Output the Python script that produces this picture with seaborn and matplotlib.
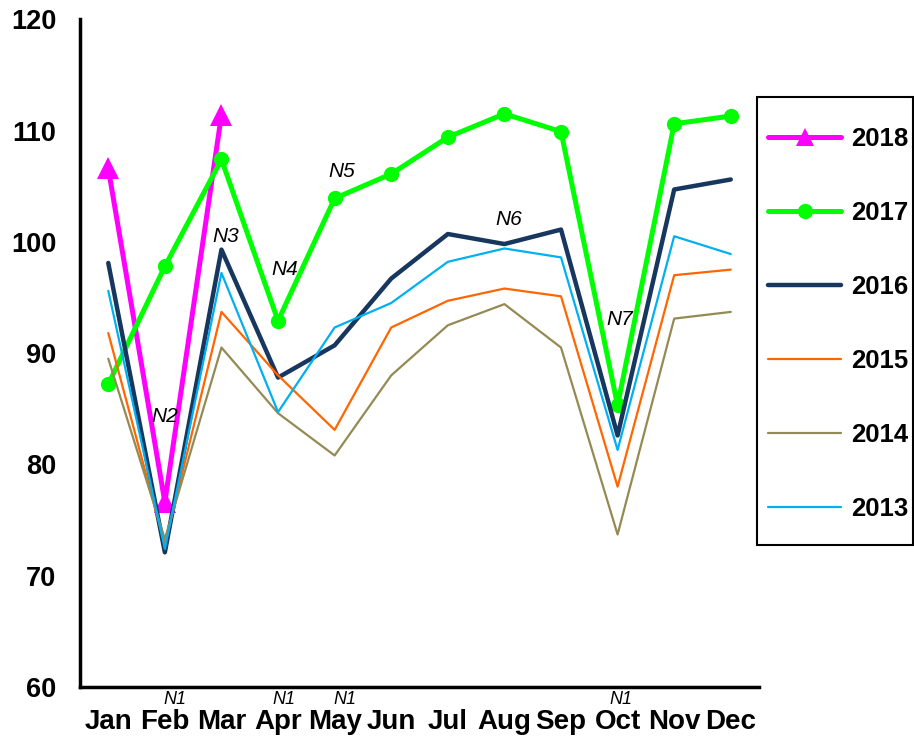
import pandas as pd
import seaborn as sns
from matplotlib import pyplot as plt
from matplotlib.patches import Rectangle
from matplotlib.ticker import FixedLocator, NullFormatter

sns.set_style("white")
plt.rcParams['font.family'] = ['Liberation Sans', 'DejaVu Sans']
plt.rcParams['text.color'] = 'black'
plt.rcParams['xtick.color'] = 'black'
plt.rcParams['ytick.color'] = 'black'

months = ['Jan', 'Feb', 'Mar', 'Apr', 'May', 'Jun',
          'Jul', 'Aug', 'Sep', 'Oct', 'Nov', 'Dec']

v2018 = [106.6, 76.6, 111.4]
v2017 = [87.2, 97.8, 107.4, 92.9, 103.9, 106.1, 109.4, 111.5, 109.9, 85.3, 110.6, 111.3]
v2016 = [98.1, 72.1, 99.3, 87.8, 90.7, 96.7, 100.7, 99.8, 101.1, 82.6, 104.7, 105.6]
v2015 = [91.8, 72.8, 93.7, 88.0, 83.1, 92.3, 94.7, 95.8, 95.1, 78.0, 97.0, 97.5]
v2014 = [89.5, 73.3, 90.5, 84.6, 80.8, 88.0, 92.5, 94.4, 90.5, 73.7, 93.1, 93.7]
v2013 = [95.6, 72.4, 97.2, 84.7, 92.3, 94.5, 98.2, 99.4, 98.6, 81.3, 100.5, 98.9]

# (text, x position in months, y value)
notes_in = [('N2', 1.0, 84.3), ('N3', 2.08, 100.5), ('N4', 3.11, 97.5),
            ('N5', 4.13, 106.3), ('N6', 7.08, 102.0), ('N7', 9.03, 93.0)]
notes_n1 = [1.17, 3.11, 4.19, 9.06]

series = [
    ('2018', v2018, '#FF00FF', 3.6, '^', 16.5, 12.5),
    ('2017', v2017, '#00FF00', 3.6, 'o', 11, 11),
    ('2016', v2016, '#17375E', 3.2, None, 0, 0),
    ('2015', v2015, '#FF6600', 1.6, None, 0, 0),
    ('2014', v2014, '#948A54', 1.6, None, 0, 0),
    ('2013', v2013, '#00B0F0', 1.6, None, 0, 0),
]

fig = plt.figure(figsize=(9.14, 7.39), dpi=100)
ax = fig.add_axes([0.0875, 0.0704, 0.743, 0.9036])

for label, vals, color, lw, marker, ms, _ in series:
    df = pd.DataFrame({'x': range(len(vals)), 'y': vals})
    sns.lineplot(data=df, x='x', y='y', ax=ax, color=color, linewidth=lw,
                 marker=marker, markersize=ms, markeredgewidth=0,
                 label=label, legend=False, solid_capstyle='round')

ax.set_xlim(-0.5, 11.5)
ax.set_ylim(60, 120)
ax.set_yticks(range(60, 121, 10))
ax.xaxis.set_major_locator(FixedLocator([i - 0.5 for i in range(13)]))
ax.xaxis.set_major_formatter(NullFormatter())
ax.set_xticks(range(12), minor=True)
ax.set_xticklabels(months, minor=True)
ax.tick_params(axis='x', which='minor', length=0, pad=16, labelsize=20)
ax.tick_params(axis='x', which='major', length=6, width=1.5,
               direction='out', color='black')
ax.tick_params(axis='y', length=5, width=1.5, direction='out',
               color='black', labelsize=19.5, pad=12)
for t in ax.get_xticklabels(minor=True) + ax.get_yticklabels():
    t.set_fontweight('bold')
    t.set_color('black')
ax.set_xlabel('')
ax.set_ylabel('')

sns.despine(ax=ax)
for s in ['left', 'bottom']:
    ax.spines[s].set_linewidth(2.5)
    ax.spines[s].set_color('black')

for txt, x, y in notes_in:
    ax.text(x, y, txt, fontsize=15, style='italic', ha='center', va='center',
            color='black')
for x in notes_n1:
    ax.text(x, 58.83, 'N1', fontsize=13, style='italic', ha='center',
            va='center', clip_on=False, color='black')

# legend box
fig.patches.append(Rectangle((0.8282, 0.2625), 0.1707, 0.6062,
                             transform=fig.transFigure, fill=False,
                             edgecolor='black', linewidth=1.5))

handles, labels = ax.get_legend_handles_labels()
leg = fig.legend(handles, labels, loc='upper left',
                 bbox_to_anchor=(0.8403, 0.8285), frameon=False,
                 handlelength=2.85, labelspacing=1.95, borderpad=0,
                 borderaxespad=0, handletextpad=0.4,
                 prop={'weight': 'bold', 'size': 18.5})
for h, s in zip(leg.legend_handles, series):
    h.set_markersize(s[6])
for t in leg.get_texts():
    t.set_color('black')

fig.savefig('out.png', dpi=100)
